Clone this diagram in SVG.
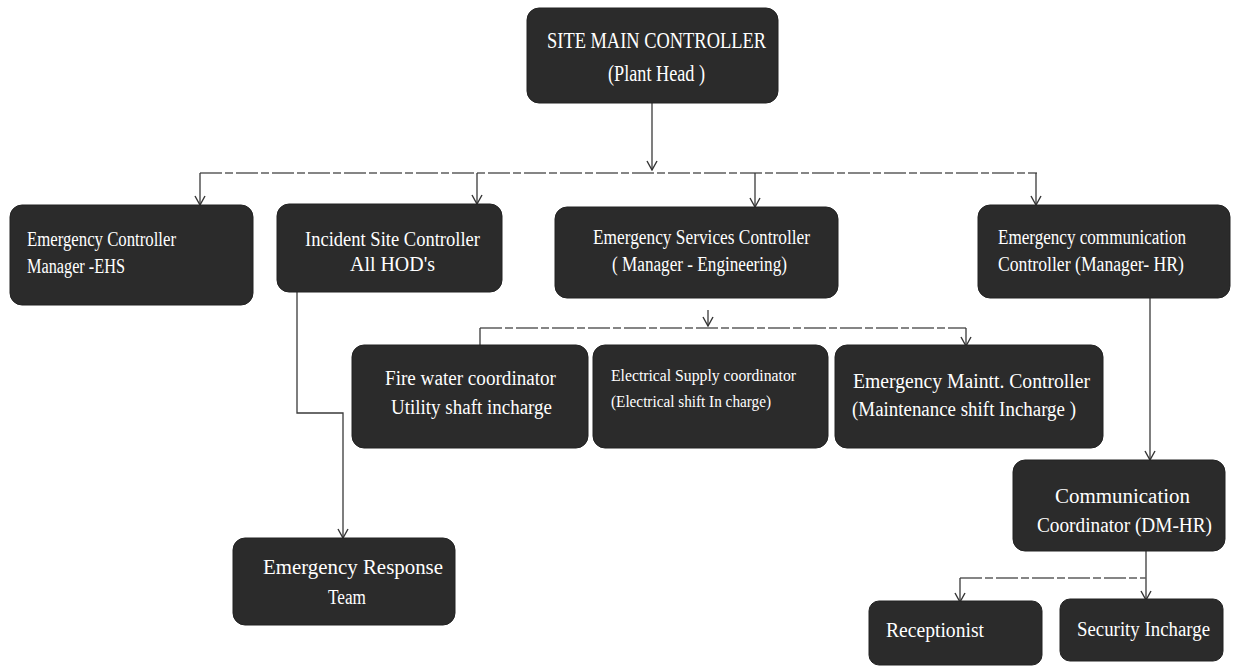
<svg xmlns="http://www.w3.org/2000/svg" width="1233" height="667" viewBox="0 0 1233 667">
<style>
.box{fill:#2b2b2b;stroke:#222222;stroke-width:1}
.t{fill:#ffffff;font-family:"Liberation Serif","DejaVu Serif",serif;font-size:20px}
.ts{font-size:16px}
.tl{font-size:24px}
.c{fill:none;stroke:#3a3a3a;stroke-width:1.3}
.d{fill:none;stroke:#5e5e5e;stroke-width:1.3;stroke-dasharray:22 3 8 3}
</style>
<defs>
<marker id="ah" viewBox="0 0 12 12" refX="11" refY="6" markerWidth="12" markerHeight="12" markerUnits="userSpaceOnUse" orient="auto">
<path d="M2,1 L11,6 L2,11" fill="none" stroke="#333333" stroke-width="1.4"/>
</marker>
</defs>
<rect width="1233" height="667" fill="#ffffff"/>
<g id="connectors">
<path class="c" d="M652,103 L652,170" marker-end="url(#ah)"/>
<path class="d" d="M200,173 L1037,173"/>
<path class="c" d="M200,173 L200,205" marker-end="url(#ah)"/>
<path class="c" d="M477,173 L477,204" marker-end="url(#ah)"/>
<path class="c" d="M755,173 L755,207" marker-end="url(#ah)"/>
<path class="c" d="M1036,173 L1036,205" marker-end="url(#ah)"/>
<path class="c" d="M708,310 L708,326" marker-end="url(#ah)"/>
<path class="d" d="M480,328 L966,328"/>
<path class="c" d="M480,328 L480,345"/>
<path class="c" d="M966,328 L966,346" marker-end="url(#ah)"/>
<path class="c" d="M297,292 L297,413 L343,413 L343,538" marker-end="url(#ah)"/>
<path class="c" d="M1150,298 L1150,460" marker-end="url(#ah)"/>
<path class="c" d="M1146,551 L1146,600" marker-end="url(#ah)"/>
<path class="d" d="M960,578 L1146,578"/>
<path class="c" d="M960,578 L960,602" marker-end="url(#ah)"/>
</g>
<g id="site-main-controller">
<rect class="box" x="527" y="8" width="251" height="95" rx="12"/>
<text class="t tl" x="547" y="48" textLength="219" lengthAdjust="spacingAndGlyphs">SITE MAIN CONTROLLER</text>
<text class="t tl" x="608" y="81" textLength="97" lengthAdjust="spacingAndGlyphs">(Plant Head )</text>
</g>
<g id="emergency-controller">
<rect class="box" x="10" y="205" width="243" height="100" rx="12"/>
<text class="t" x="27" y="246" textLength="149" lengthAdjust="spacingAndGlyphs">Emergency Controller</text>
<text class="t" x="27" y="273" textLength="98" lengthAdjust="spacingAndGlyphs">Manager -EHS</text>
</g>
<g id="incident-site-controller">
<rect class="box" x="277" y="204" width="225" height="88" rx="12"/>
<text class="t" x="305" y="246" textLength="175" lengthAdjust="spacingAndGlyphs">Incident Site Controller</text>
<text class="t" x="350" y="271" textLength="85" lengthAdjust="spacingAndGlyphs">All HOD's</text>
</g>
<g id="emergency-services-controller">
<rect class="box" x="555" y="207" width="283" height="91" rx="12"/>
<text class="t" x="593" y="244" textLength="217" lengthAdjust="spacingAndGlyphs">Emergency Services Controller</text>
<text class="t" x="612" y="271" textLength="175" lengthAdjust="spacingAndGlyphs">( Manager - Engineering)</text>
</g>
<g id="emergency-communication-controller">
<rect class="box" x="978" y="205" width="252" height="93" rx="12"/>
<text class="t" x="998" y="244" textLength="188" lengthAdjust="spacingAndGlyphs">Emergency communication</text>
<text class="t" x="998" y="271" textLength="186" lengthAdjust="spacingAndGlyphs">Controller (Manager- HR)</text>
</g>
<g id="fire-water-coordinator">
<rect class="box" x="352" y="345" width="236" height="103" rx="12"/>
<text class="t" x="385" y="385" textLength="171" lengthAdjust="spacingAndGlyphs">Fire water coordinator</text>
<text class="t" x="391" y="414" textLength="161" lengthAdjust="spacingAndGlyphs">Utility shaft incharge</text>
</g>
<g id="electrical-supply-coordinator">
<rect class="box" x="593" y="345" width="235" height="103" rx="12"/>
<text class="t ts" x="611" y="381" textLength="185" lengthAdjust="spacingAndGlyphs">Electrical Supply coordinator</text>
<text class="t ts" x="611" y="407" textLength="160" lengthAdjust="spacingAndGlyphs">(Electrical shift In charge)</text>
</g>
<g id="emergency-maintt-controller">
<rect class="box" x="835" y="345" width="268" height="103" rx="12"/>
<text class="t" x="853" y="388" textLength="237" lengthAdjust="spacingAndGlyphs">Emergency Maintt. Controller</text>
<text class="t" x="852" y="416" textLength="224" lengthAdjust="spacingAndGlyphs">(Maintenance shift  Incharge )</text>
</g>
<g id="emergency-response-team">
<rect class="box" x="233" y="538" width="222" height="87" rx="12"/>
<text class="t" x="263" y="574" textLength="180" lengthAdjust="spacingAndGlyphs">Emergency Response</text>
<text class="t" x="328" y="604" textLength="38" lengthAdjust="spacingAndGlyphs">Team</text>
</g>
<g id="communication-coordinator">
<rect class="box" x="1013" y="460" width="212" height="91" rx="12"/>
<text class="t" x="1055" y="503" textLength="135" lengthAdjust="spacingAndGlyphs">Communication</text>
<text class="t" x="1037" y="532" textLength="175" lengthAdjust="spacingAndGlyphs">Coordinator (DM-HR)</text>
</g>
<g id="receptionist">
<rect class="box" x="869" y="601" width="173" height="64" rx="10"/>
<text class="t" x="886" y="637" textLength="98" lengthAdjust="spacingAndGlyphs">Receptionist</text>
</g>
<g id="security-incharge">
<rect class="box" x="1060" y="599" width="163" height="62" rx="10"/>
<text class="t" x="1077" y="636" textLength="133" lengthAdjust="spacingAndGlyphs">Security Incharge</text>
</g>
</svg>
